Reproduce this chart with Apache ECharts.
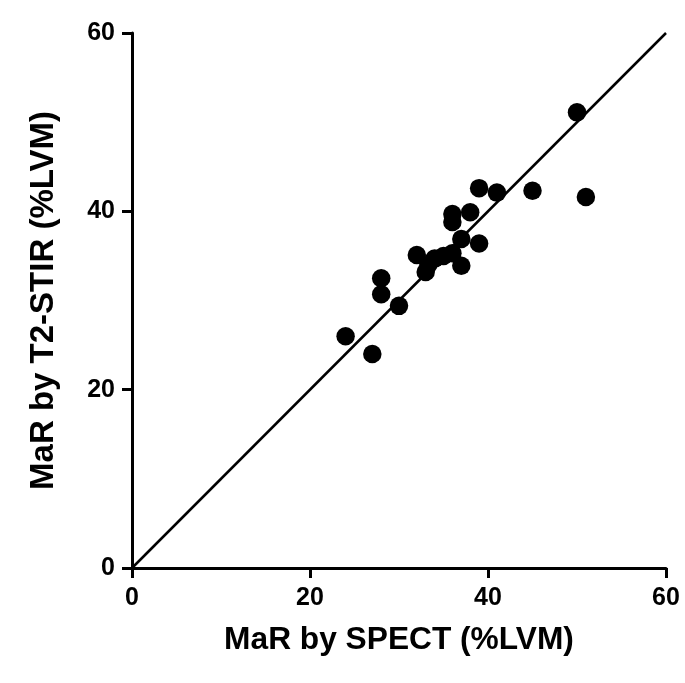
<!DOCTYPE html>
<html><head><meta charset="utf-8">
<script src="https://cdn.jsdelivr.net/npm/echarts@6/dist/echarts.min.js"></script>
<style>html,body{margin:0;padding:0;background:#fff}#c{width:685px;height:683px}</style>
</head><body><div id="c"></div>
<script>
const spectX = [24, 27, 28, 28, 30, 32, 33, 33.3, 34, 35, 36, 37, 37, 39, 36, 36, 38, 39, 41, 45, 51, 50];
const stirY = [26, 24, 32.5, 30.7, 29.4, 35.1, 33.2, 34.0, 34.7, 35.0, 35.3, 33.9, 36.9, 36.4, 39.7, 38.8, 39.9, 42.6, 42.1, 42.3, 41.6, 51.1];
const identityLine = [[0, 0], [60, 60]];
const xTicks = [0, 20, 40, 60];
const yTicks = [0, 20, 40, 60];
const xName = 'MaR by SPECT (%LVM)';
const yName = 'MaR by T2-STIR (%LVM)';

const points = spectX.map((x, i) => [x, stirY[i]]);
const font = 'Liberation Sans, Arial, sans-serif';
const axisCommon = {
  min: 0, max: 60, interval: 20,
  axisLine: {show: true, onZero: false, lineStyle: {color: '#000', width: 3}},
  axisTick: {show: true, length: 10, lineStyle: {color: '#000', width: 3}},
  splitLine: {show: false},
  nameLocation: 'middle'
};
const chart = echarts.init(document.getElementById('c'));
chart.setOption({
  animation: false,
  backgroundColor: '#fff',
  grid: {left: 132, right: 19, top: 33, bottom: 115, containLabel: false},
  xAxis: Object.assign({}, axisCommon, {
    type: 'value', name: xName, nameGap: 56,
    nameTextStyle: {color: '#000', fontSize: 31.7, fontWeight: 'bold', fontFamily: font},
    axisLabel: {color: '#000', fontSize: 25, fontWeight: 'bold', fontFamily: font, margin: 18,
      formatter: v => xTicks.includes(v) ? String(v) : ''}
  }),
  yAxis: Object.assign({}, axisCommon, {
    type: 'value', name: yName, nameGap: 72,
    nameTextStyle: {color: '#000', fontSize: 33, fontWeight: 'bold', fontFamily: font},
    axisLabel: {color: '#000', fontSize: 25, fontWeight: 'bold', fontFamily: font, margin: 17,
      formatter: v => yTicks.includes(v) ? String(v) : ''}
  }),
  series: [
    {type: 'line', data: identityLine, symbol: 'none', lineStyle: {color: '#000', width: 2.5}, z: 1},
    {type: 'scatter', data: points, symbol: 'circle', symbolSize: 18.5, itemStyle: {color: '#000', opacity: 1}, z: 2}
  ]
});
</script></body></html>
